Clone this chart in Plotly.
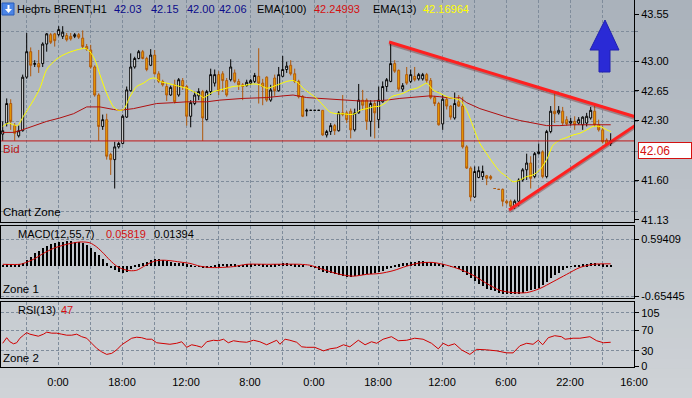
import plotly.graph_objects as go

# ------------------------------------------------------------------ data
bar_open = [42.14, 42.27, 42.50, 42.24, 42.12, 42.18, 42.81, 43.11, 42.96, 42.97,
            42.97, 43.20, 43.31, 43.32, 43.31, 43.29, 43.30, 43.29, 43.29, 43.31,
            43.27, 43.17, 43.13, 42.93, 42.60, 42.23, 42.31, 41.90, 41.84, 41.99,
            42.03, 42.34, 42.65, 42.93, 43.03, 43.11, 43.03, 42.95, 43.07, 42.85,
            42.76, 42.70, 42.60, 42.72, 42.60, 42.77, 42.70, 42.35, 42.50, 42.59,
            42.64, 42.31, 42.64, 42.74, 42.84, 42.85, 42.77, 42.78, 42.86, 42.76,
            42.72, 42.71, 42.74, 42.76, 42.82, 42.74, 42.81, 42.54, 42.80, 42.65,
            42.82, 42.90, 42.95, 42.85, 42.76, 42.58, 42.41, 42.42, 42.42, 42.42,
            42.42, 42.13, 42.17, 42.24, 42.18, 42.39, 42.39, 42.41, 42.19, 42.39,
            42.54, 42.54, 42.29, 42.50, 42.31, 42.52, 42.70, 42.76, 42.97, 42.89,
            42.67, 42.84, 42.76, 42.82, 42.79, 42.79, 42.84, 42.77, 42.57, 42.50,
            42.26, 42.55, 42.47, 42.33, 42.52, 42.47, 41.99, 41.74, 41.40, 41.63,
            41.64, 41.65, 41.64, 41.50, 41.49, 41.49, 41.35, 41.35, 41.29, 41.35,
            41.60, 41.72, 41.80, 41.64, 41.91, 41.93, 41.64, 42.17, 42.41, 42.39,
            42.41, 42.31, 42.27, 42.29, 42.27, 42.25, 42.27, 42.33, 42.41, 42.25,
            42.19, 42.07, 42.03]
bar_high = [42.29, 42.56, 42.55, 42.27, 42.24, 42.84, 43.33, 43.16, 43.01, 43.13,
            43.22, 43.33, 43.33, 43.33, 43.41, 43.41, 43.33, 43.33, 43.33, 43.33,
            43.36, 43.20, 43.19, 42.95, 42.62, 42.37, 42.38, 41.92, 42.05, 42.05,
            42.37, 42.70, 43.09, 43.05, 43.13, 43.13, 43.05, 43.14, 43.13, 42.88,
            42.78, 42.74, 42.71, 42.78, 42.80, 42.80, 42.72, 42.54, 42.64, 42.68,
            42.66, 42.66, 42.91, 42.90, 42.88, 42.88, 42.80, 43.02, 42.90, 42.79,
            42.74, 42.78, 42.79, 42.86, 43.15, 42.79, 42.82, 42.72, 42.84, 42.93,
            43.06, 42.99, 43.01, 42.91, 42.78, 42.60, 42.44, 42.42, 42.42, 42.42,
            42.42, 42.19, 42.27, 42.26, 42.41, 42.60, 42.41, 42.44, 42.44, 42.73,
            42.66, 42.56, 42.54, 42.54, 42.70, 42.76, 42.80, 43.23, 43.01, 42.90,
            42.74, 42.93, 42.90, 42.93, 42.86, 42.86, 42.86, 42.80, 42.59, 42.52,
            42.60, 42.57, 42.48, 42.63, 42.60, 42.58, 42.01, 41.76, 41.76, 41.76,
            41.77, 41.66, 41.66, 41.50, 41.49, 41.50, 41.37, 41.37, 41.37, 41.62,
            41.74, 41.91, 41.88, 41.93, 42.03, 41.95, 42.19, 42.47, 42.63, 42.47,
            42.46, 42.35, 42.33, 42.35, 42.34, 42.35, 42.39, 42.46, 42.48, 42.31,
            42.23, 42.09, 42.15]
bar_low = [42.06, 42.23, 42.19, 42.06, 42.10, 42.17, 42.79, 42.82, 42.93, 42.86,
           42.93, 43.11, 43.20, 43.17, 43.29, 43.26, 43.23, 43.24, 43.27, 43.26,
           43.15, 43.12, 42.91, 42.58, 42.06, 42.19, 41.84, 41.66, 41.50, 41.97,
           42.02, 42.33, 42.64, 42.91, 43.02, 43.02, 42.88, 42.94, 42.84, 42.74,
           42.70, 42.53, 42.59, 42.50, 42.58, 42.66, 42.24, 42.22, 42.48, 42.54,
           42.06, 42.30, 42.60, 42.70, 42.60, 42.64, 42.58, 42.76, 42.74, 42.66,
           42.54, 42.70, 42.72, 42.74, 42.50, 42.48, 42.52, 42.52, 42.59, 42.64,
           42.81, 42.86, 42.83, 42.74, 42.56, 42.34, 42.35, 42.42, 42.42, 42.42,
           42.12, 42.10, 42.13, 42.13, 42.17, 42.35, 42.27, 42.09, 42.17, 42.38,
           42.42, 42.19, 42.11, 42.09, 42.21, 42.51, 42.64, 42.75, 42.86, 42.65,
           42.64, 42.72, 42.74, 42.76, 42.77, 42.77, 42.74, 42.55, 42.47, 42.24,
           42.19, 42.43, 42.31, 42.31, 42.46, 41.97, 41.73, 41.35, 41.39, 41.62,
           41.60, 41.54, 41.60, 41.50, 41.49, 41.29, 41.31, 41.25, 41.26, 41.29,
           41.58, 41.60, 41.50, 41.62, 41.90, 41.62, 41.62, 42.15, 42.27, 42.37,
           42.24, 42.24, 42.24, 42.19, 42.25, 42.19, 42.23, 42.31, 42.23, 42.17,
           42.03, 42.01, 42.00]
bar_close = [42.18, 42.50, 42.29, 42.15, 42.18, 42.81, 43.11, 42.95, 42.97, 42.93,
             43.20, 43.32, 43.22, 43.24, 43.37, 43.34, 43.25, 43.26, 43.31, 43.28,
             43.17, 43.14, 42.93, 42.60, 42.23, 42.31, 41.88, 41.84, 41.99, 42.03,
             42.35, 42.66, 42.93, 43.03, 43.11, 43.03, 42.90, 43.07, 42.85, 42.76,
             42.72, 42.60, 42.69, 42.52, 42.78, 42.70, 42.35, 42.51, 42.60, 42.64,
             42.33, 42.64, 42.84, 42.84, 42.65, 42.77, 42.60, 42.93, 42.76, 42.72,
             42.70, 42.75, 42.77, 42.83, 42.74, 42.70, 42.54, 42.66, 42.65, 42.84,
             42.90, 42.94, 42.85, 42.76, 42.58, 42.35, 42.42, 42.42, 42.42, 42.42,
             42.13, 42.17, 42.24, 42.18, 42.39, 42.37, 42.31, 42.19, 42.39, 42.54,
             42.48, 42.29, 42.50, 42.39, 42.54, 42.70, 42.78, 42.97, 42.88, 42.67,
             42.71, 42.74, 42.84, 42.78, 42.84, 42.84, 42.77, 42.57, 42.50, 42.25,
             42.55, 42.47, 42.34, 42.50, 42.47, 41.99, 41.74, 41.40, 41.70, 41.71,
             41.70, 41.62, 41.62, 41.50, 41.49, 41.35, 41.33, 41.29, 41.35, 41.60,
             41.72, 41.80, 41.62, 41.91, 41.93, 41.64, 42.17, 42.41, 42.38, 42.42,
             42.27, 42.26, 42.29, 42.25, 42.31, 42.34, 42.35, 42.42, 42.25, 42.19,
             42.05, 42.02, 42.06]
bar_idx = list(range(len(bar_open)))

ema13_x = [0, 1.4, 2.7, 3.7, 5.2, 7.7, 9.3, 11, 12.7, 14.3, 16, 17.7, 19.3, 20.6, 21.8, 23.1,
           24.3, 26, 27.7, 28.9, 30.2, 31.8, 33.5, 35.2, 36.8, 38.1, 39.3, 41, 42.7, 44.3, 46,
           47.7, 49.3, 50.2, 51.4, 52.7, 54.3, 56, 57.6, 60.1, 62.6, 64.3, 66, 67.6, 69.3, 71,
           72.6, 73.9, 75.1, 76.8, 78.5, 80.1, 81.8, 83.5, 85.1, 86.8, 88.1, 89.3, 91, 92.6,
           94.3, 96, 97.2, 98.5, 100.1, 101.8, 103.5, 105.1, 106, 107.6, 109.3, 111, 112.6,
           114.3, 116, 117.6, 119.3, 121, 122.6, 124.3, 126, 127.6, 129.3, 131, 132.6, 134.3,
           136, 137.6, 139.3, 141, 142.6, 144.3, 146, 147.6, 149.3, 151, 152]
ema13_y = [42.23, 42.27, 42.25, 42.24, 42.35, 42.54, 42.68, 42.90, 42.99, 43.05, 43.09, 43.12,
           43.14, 43.15, 43.11, 43.01, 42.84, 42.62, 42.46, 42.42, 42.43, 42.58, 42.70, 42.74,
           42.79, 42.80, 42.76, 42.74, 42.72, 42.70, 42.68, 42.64, 42.60, 42.57, 42.60, 42.64,
           42.66, 42.68, 42.70, 42.71, 42.73, 42.72, 42.68, 42.70, 42.73, 42.76, 42.77, 42.74,
           42.68, 42.62, 42.56, 42.48, 42.40, 42.38, 42.38, 42.37, 42.38, 42.42, 42.44, 42.46,
           42.47, 42.52, 42.58, 42.60, 42.62, 42.66, 42.68, 42.72, 42.74, 42.66, 42.62, 42.58,
           42.56, 42.54, 42.42, 42.23, 42.03, 41.91, 41.80, 41.70, 41.64, 41.58, 41.60, 41.64,
           41.66, 41.72, 41.84, 42.01, 42.07, 42.10, 42.13, 42.15, 42.19, 42.23, 42.23, 42.19,
           42.17]

ema100_x = [0, 2.7, 4.3, 7.7, 11, 14.3, 17.7, 21, 24.3, 27.7, 29.3, 32.7, 36, 38.5, 42.7, 46,
            51, 54.3, 60.1, 66, 70.1, 72.6, 76, 82.6, 86, 89.3, 92.6, 96, 99.3, 102.6, 106.8,
            109.3, 112.6, 114.3, 116, 119.3, 122.6, 126, 129.3, 132.6, 136, 139.3, 142.6, 146,
            149.3, 152]
ema100_y = [42.16, 42.16, 42.18, 42.24, 42.29, 42.33, 42.38, 42.46, 42.46, 42.43, 42.42, 42.44,
            42.47, 42.50, 42.51, 42.52, 42.52, 42.54, 42.56, 42.57, 42.59, 42.60, 42.57, 42.55,
            42.54, 42.53, 42.53, 42.54, 42.56, 42.57, 42.59, 42.58, 42.56, 42.57, 42.51, 42.44,
            42.39, 42.34, 42.30, 42.27, 42.24, 42.24, 42.25, 42.25, 42.25, 42.25]

macd_hist = [0.03, 0.04, 0.04, 0.03, 0.04, 0.07, 0.13, 0.20, 0.28, 0.34,
             0.39, 0.44, 0.48, 0.51, 0.53, 0.53, 0.54, 0.54, 0.53, 0.53,
             0.51, 0.46, 0.39, 0.31, 0.24, 0.15, 0.06, -0.05, -0.09, -0.12,
             -0.16, -0.12, -0.07, 0.01, 0.04, 0.07, 0.09, 0.13, 0.15, 0.15,
             0.13, 0.12, 0.09, 0.07, 0.07, 0.06, 0.04, 0.02, -0.01, -0.01,
             -0.03, -0.05, -0.01, 0.02, 0.04, 0.05, 0.04, 0.05, 0.04, 0.03,
             0.03, 0.04, 0.04, 0.05, 0.05, 0.04, 0.03, 0.03, 0.04, 0.05,
             0.06, 0.06, 0.05, 0.04, 0.03, 0.02, 0.00, -0.01, -0.05, -0.09,
             -0.12, -0.15, -0.16, -0.18, -0.20, -0.22, -0.23, -0.23, -0.22, -0.20,
             -0.19, -0.18, -0.17, -0.16, -0.13, -0.10, -0.07, -0.03, 0.01, 0.04,
             0.06, 0.07, 0.09, 0.09, 0.11, 0.11, 0.09, 0.08, 0.07, 0.05,
             0.04, 0.00, -0.01, -0.03, -0.06, -0.12, -0.20, -0.27, -0.33, -0.39,
             -0.44, -0.49, -0.53, -0.55, -0.58, -0.60, -0.61, -0.61, -0.61, -0.60,
             -0.58, -0.55, -0.53, -0.50, -0.47, -0.42, -0.34, -0.27, -0.20, -0.14,
             -0.09, -0.05, -0.01, 0.01, 0.02, 0.04, 0.04, 0.06, 0.06, 0.05,
             0.04, 0.02, 0.01]
macd_sig_x = [0, 4.3, 5.2, 7.7, 10.2, 12.7, 15.2, 17.7, 19.75, 21.8, 23.5, 25.2, 26.8, 28.5,
              30.2, 31.8, 33.5, 35.2, 36.8, 38.5, 40.2, 41.8, 44.3, 46.8, 49.3, 51.8, 54.3,
              57.7, 61, 66, 74.3, 76.8, 79.3, 81.8, 84.3, 87.6, 91, 94.3, 97.6, 101, 104.3,
              107.6, 111, 114.3, 117.6, 121, 124.3, 127.6, 131, 134.3, 137.6, 141, 144.3,
              147.6, 152]
macd_sig = [0.04, 0.04, 0.06, 0.15, 0.28, 0.39, 0.46, 0.51, 0.53, 0.51, 0.42, 0.28, 0.13, 0.00,
            -0.07, -0.10, -0.09, -0.01, 0.07, 0.12, 0.13, 0.12, 0.09, 0.06, 0.00, -0.03, -0.03,
            -0.01, 0.04, 0.04, 0.04, 0.02, -0.05, -0.12, -0.18, -0.22, -0.18, -0.16, -0.10,
            0.00, 0.07, 0.08, 0.02, -0.07, -0.20, -0.38, -0.53, -0.58, -0.58, -0.49, -0.34,
            -0.18, -0.03, 0.04, 0.05]

rsi_x = [0, 1, 1.8, 2.7, 3.5, 4.3, 5.2, 6, 6.8, 7.7, 8.9, 10.2, 11, 12.25, 13.5, 14.75, 16,
         17.25, 18.5, 19.75, 21, 22.25, 23.5, 24.75, 26, 27.25, 28.5, 29.75, 31, 32.25, 33.5,
         34.75, 36, 37.25, 38.5, 40.2, 41.8, 43.5, 44.75, 46, 47.25, 48.5, 49.75, 51, 52.7,
         53.9, 55.2, 56.4, 57.7, 59.3, 61, 62.7, 64.3, 66, 67.25, 68.5, 69.3, 70.6, 71.8, 73.5,
         74.75, 76, 78, 80.2, 81.8, 83.5, 85.2, 86.8, 88.9, 90.6, 92.2, 93.5, 95.1, 97.2, 98.9,
         101, 103, 105.1, 107.2, 108.9, 110.1, 111.4, 113, 114.7, 116.8, 118.5, 121, 123.5,
         126, 127.6, 129.3, 131, 132.6, 133.9, 135, 136.4, 138, 139.7, 140.6, 142.6, 144.3,
         145.6, 146.8, 148.5, 150.2, 152]
rsi_y = [45, 56, 48, 44, 46, 55, 61, 66, 63, 61, 59, 63, 67, 65, 65, 63, 61, 61, 63, 58, 55, 45,
         35, 28, 23, 25, 32, 42, 48, 55, 57, 56, 53, 53, 46, 45, 43, 45, 48, 37, 42, 40, 37, 48,
         51, 50, 53, 46, 50, 48, 47, 51, 48, 42, 47, 51, 43, 53, 51, 47, 38, 37, 37, 30, 34, 36,
         42, 38, 51, 42, 48, 45, 53, 58, 50, 51, 55, 53, 45, 34, 45, 40, 44, 32, 23, 33, 32, 30,
         26, 26, 40, 45, 43, 51, 42, 56, 60, 58, 53, 55, 55, 56, 58, 50, 46, 47]

bid_price = 42.06
trend_upper_x = [96.6, 158.2]
trend_upper_y = [43.224, 42.343]
trend_lower_x = [126.6, 158.2]
trend_lower_y = [41.248, 42.245]

time_tick_pos = [5.83, 13.83, 21.83, 29.83, 37.83, 45.83, 53.83, 61.83, 69.83, 77.83,
                 85.83, 93.83, 101.83, 109.83, 117.83, 125.83, 133.83, 141.83, 149.83, 157.83]
time_tick_text = ["", "0:00", "", "18:00", "", "12:00", "", "8:00", "", "0:00",
                  "", "18:00", "", "12:00", "", "6:00", "", "22:00", "", "16:00"]
price_ticks = [43.55, 43.00, 42.65, 42.30, 41.60, 41.13]
price_grid = [43.345, 42.992, 42.645, 42.294, 41.941, 41.588, 41.235]
macd_ticks = [0.59409, -0.65445]
macd_tick_text = ["0.59409", "-0.65445"]
rsi_ticks = [105, 70, 30, 0]
rsi_grid = [105, 70, 30]

header_ohlc = ["42.03", "42.15", "42.00", "42.06"]
ema100_last = "42.24993"
ema13_last = "42.16964"
macd_last = ("0.05819", "0.01394")
rsi_last = "47"

# ------------------------------------------------------------------ layout helpers
W, H = 692, 398
ML, MR, MT, MB = 1, 58, 0, 31
PW, PH = W - ML - MR, H - MT - MB


def px(x):
    return (x - ML) / PW


def py(y):
    return 1 - (y - MT) / PH


FONT = "Liberation Sans"
GRID = "#7f8c9b"
DASH = "3px,2px"

fig = go.Figure()

fig.add_trace(go.Candlestick(
    x=bar_idx, open=bar_open, high=bar_high, low=bar_low, close=bar_close,
    increasing=dict(line=dict(color="black", width=1), fillcolor="white"),
    decreasing=dict(line=dict(color="#b0580a", width=1), fillcolor="#f0a400"),
    whiskerwidth=0, xaxis="x", yaxis="y", hoverinfo="skip"))
fig.add_trace(go.Scatter(x=ema100_x, y=ema100_y, mode="lines",
                         line=dict(color="#b01010", width=1), xaxis="x", yaxis="y"))
fig.add_trace(go.Scatter(x=ema13_x, y=ema13_y, mode="lines",
                         line=dict(color="#ffff00", width=1, shape="spline", smoothing=0.8),
                         xaxis="x", yaxis="y"))
for tx, ty in ((trend_upper_x, trend_upper_y), (trend_lower_x, trend_lower_y)):
    fig.add_trace(go.Scatter(x=tx, y=[v - 0.02 for v in ty], mode="lines",
                             line=dict(color="rgba(110,20,20,0.35)", width=3),
                             xaxis="x", yaxis="y"))
    fig.add_trace(go.Scatter(x=tx, y=ty, mode="lines",
                             line=dict(color="#ff2020", width=3), xaxis="x", yaxis="y"))

fig.add_trace(go.Bar(x=bar_idx, y=macd_hist, width=0.25, marker=dict(color="black", line=dict(width=0)),
                     xaxis="x2", yaxis="y2"))
fig.add_trace(go.Scatter(x=macd_sig_x, y=macd_sig, mode="lines",
                         line=dict(color="#d00000", width=1, shape="spline", smoothing=0.8),
                         xaxis="x2", yaxis="y2"))
fig.add_trace(go.Scatter(x=rsi_x, y=rsi_y, mode="lines",
                         line=dict(color="#d00000", width=1), xaxis="x3", yaxis="y3"))

xr = [-0.425, 157.83]
common_x = dict(range=xr, tickmode="array", tickvals=time_tick_pos, showgrid=True,
                gridcolor=GRID, griddash=DASH, gridwidth=1, zeroline=False,
                showline=True, mirror=True, linecolor="black", linewidth=1,
                fixedrange=True)
common_y = dict(side="right", zeroline=False, showline=True, mirror=True, linecolor="black",
                linewidth=1, ticks="outside", ticklen=4, tickcolor="black",
                tickfont=dict(family=FONT, size=11, color="black"), fixedrange=True)

layout = dict(
    width=W, height=H, margin=dict(l=ML, r=MR, t=MT, b=MB),
    paper_bgcolor="#bcc2c9", plot_bgcolor="rgba(0,0,0,0)", showlegend=False,
    bargap=0,
    xaxis=dict(common_x, anchor="y", showticklabels=False, ticks="",
               rangeslider=dict(visible=False)),
    xaxis2=dict(common_x, anchor="y2", matches="x", showticklabels=False, ticks=""),
    xaxis3=dict(common_x, anchor="y3", matches="x", ticktext=time_tick_text,
                ticks="outside", ticklen=5, tickcolor="rgba(0,0,0,0)",
                tickfont=dict(family=FONT, size=11, color="black")),
    yaxis=dict(common_y, domain=[py(222), py(0)], range=[41.106, 43.718], anchor="x",
               tickmode="array", tickvals=price_ticks,
               ticktext=["%.2f" % v for v in price_ticks], showgrid=False,
               minor=dict(tickmode="array", tickvals=price_grid, showgrid=True, gridcolor=GRID,
                          griddash=DASH, ticks="outside", ticklen=3, tickcolor="#6d7886")),
    yaxis2=dict(common_y, domain=[py(298), py(226)], range=[-0.698, 0.879], anchor="x2",
                tickmode="array", tickvals=macd_ticks, ticktext=macd_tick_text,
                showgrid=True, gridcolor=GRID, griddash=DASH),
    yaxis3=dict(common_y, domain=[py(367), py(302)], range=[-1.98, 126.7], anchor="x3",
                tickmode="array", tickvals=rsi_ticks, showgrid=False,
                minor=dict(tickmode="array", tickvals=rsi_grid, showgrid=True, gridcolor=GRID,
                           griddash=DASH, ticks="")),
)
fig.update_layout(**layout)

# background gradient
shapes = []
n_bands = 40
top_c, bot_c = (170, 178, 187), (207, 211, 215)
for i in range(n_bands):
    t = (i + 0.5) / n_bands
    c = tuple(int(round(top_c[k] + (bot_c[k] - top_c[k]) * t)) for k in range(3))
    y0p, y1p = H * i / n_bands, H * (i + 1) / n_bands + 0.6
    shapes.append(dict(type="rect", xref="paper", yref="paper", layer="below",
                       x0=px(-2), x1=px(W + 2), y0=py(y1p), y1=py(y0p),
                       fillcolor="rgb(%d,%d,%d)" % c, line=dict(width=0)))

# bid line
shapes.append(dict(type="line", xref="x domain", yref="y", x0=0, x1=1, y0=bid_price,
                   y1=bid_price, line=dict(color="#c01818", width=1), layer="above"))


def ppath(points):
    return "M " + " L ".join("%.5f,%.5f" % (px(a), py(b)) for a, b in points) + " Z"


# blue up arrow
shapes.append(dict(type="path", xref="paper", yref="paper",
                   path=ppath([(605, 20), (619, 50), (610, 50), (610, 72), (599, 72), (599, 50), (590, 50)]),
                   fillcolor="#2a2ad6", line=dict(color="#2020b0", width=1)))
# header icon
shapes.append(dict(type="rect", xref="paper", yref="paper", x0=px(2), x1=px(14), y0=py(15), y1=py(3),
                   fillcolor="#4a84e6", line=dict(color="#2a5cb8", width=1)))
shapes.append(dict(type="path", xref="paper", yref="paper",
                   path=ppath([(7.5, 5), (9.5, 5), (9.5, 9), (12, 9), (8.5, 13), (5, 9), (7.5, 9)]),
                   fillcolor="white", line=dict(width=0)))
fig.update_layout(shapes=shapes)

ann = []


def txt(x, y, s, color="black", size=11):
    ann.append(dict(xref="paper", yref="paper", x=px(x), y=py(y), text=s, showarrow=False,
                    xanchor="left", yanchor="middle", font=dict(family=FONT, size=size, color=color),
                    borderpad=0))


txt(16, 9, "Нефть BRENT,H1")
for xx, v in zip((113, 150, 186, 218), header_ohlc):
    txt(xx, 9, v, "#0c0c8a")
txt(256, 9, "EMA(100)")
txt(313, 9, ema100_last, "#d41010")
txt(372, 9, "EMA(13)")
txt(422, 9, ema13_last, "#ffff00")
txt(2, 212, "Chart Zone", size=11.5)
txt(2, 149, "Bid", "#c01818", size=11.5)
txt(17, 234, "MACD(12,55,7)")
txt(105, 234, macd_last[0], "#d41010")
txt(153, 234, macd_last[1])
txt(2, 289, "Zone 1", size=11.5)
txt(17, 310, "RSI(13)")
txt(60, 310, rsi_last, "#d41010")
txt(2, 358, "Zone 2", size=11.5)

# current price label box
ann.append(dict(xref="paper", yref="paper", x=px(638), y=py(150), text="%.2f" % bid_price,
                showarrow=False, xanchor="left", yanchor="middle", align="left",
                font=dict(family=FONT, size=12, color="#d41010"), bgcolor="white",
                bordercolor="#d41010", borderwidth=1, borderpad=1, width=50, height=13))
fig.update_layout(annotations=ann)

fig.write_html("out.html", config={"displayModeBar": False})

# remove the default page margin so the figure sits at the window origin
with open("out.html", "r", encoding="utf-8") as f:
    html = f.read()
html = html.replace("<head>", "<head><style>html,body{margin:0;padding:0;overflow:hidden;}</style>", 1)
with open("out.html", "w", encoding="utf-8") as f:
    f.write(html)
